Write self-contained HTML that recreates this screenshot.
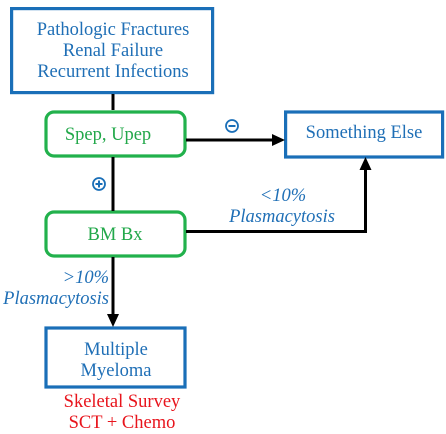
<!DOCTYPE html>
<html><head><meta charset="utf-8"><style>
html,body{margin:0;padding:0;background:#fff;}
svg{display:block;}
text{font-family:"Liberation Serif",serif;}
</style></head><body>
<svg width="446" height="434" viewBox="0 0 446 434" xmlns="http://www.w3.org/2000/svg">
<g fill="none" stroke-width="3.2">
<rect x="11.6" y="8.6" width="201" height="84" stroke="#1a6fb8"/>
<rect x="46" y="112" width="139" height="44" rx="8" stroke="#22b14c"/>
<rect x="285.6" y="112" width="157" height="45" stroke="#1a6fb8"/>
<rect x="46" y="212" width="139" height="44" rx="8" stroke="#22b14c"/>
<rect x="46" y="328" width="139" height="59" stroke="#1a6fb8"/>
</g>
<g stroke="#000" stroke-width="3" fill="none">
<line x1="113" y1="94" x2="113" y2="110"/>
<line x1="113" y1="157" x2="113" y2="211"/>
<line x1="186" y1="140" x2="275" y2="140"/>
<polyline points="186,231.5 365.5,231.5 365.5,167"/>
<line x1="113" y1="257" x2="113" y2="316"/>
</g>
<g fill="#000">
<polygon points="285,140 272,134 272,146"/>
<polygon points="365.5,157 359.5,170 371.5,170"/>
<polygon points="113,327 107,314 119,314"/>
</g>
<g fill="none" stroke="#1a6fb8" stroke-width="1.8">
<circle cx="232" cy="126" r="6"/>
<circle cx="99" cy="184" r="6"/>
</g>
<g stroke="#1a6fb8" stroke-width="2">
<line x1="228.5" y1="126" x2="235.5" y2="126"/>
<line x1="95.5" y1="184" x2="102.5" y2="184"/>
<line x1="99" y1="180.5" x2="99" y2="187.5"/>
</g>
<g fill="#1f6fb6" font-size="18.5" text-anchor="middle">
<text x="113" y="35">Pathologic Fractures</text>
<text x="113" y="56">Renal Failure</text>
<text x="113" y="77">Recurrent Infections</text>
<text x="364" y="138">Something Else</text>
<text x="116" y="355">Multiple</text>
<text x="116" y="376">Myeloma</text>
</g>
<g fill="#22a84a" font-size="18.5" text-anchor="middle">
<text x="108" y="140">Spep, Upep</text>
<text x="115" y="240">BM Bx</text>
</g>
<g fill="#1f6fb6" font-size="18.5" font-style="italic">
<text x="283" y="201" text-anchor="middle">&lt;10%</text>
<text x="282" y="222" text-anchor="middle">Plasmacytosis</text>
<text x="109" y="283" text-anchor="end">&gt;10%</text>
<text x="109" y="304" text-anchor="end">Plasmacytosis</text>
</g>
<g fill="#e8141c" font-size="18.5" text-anchor="middle">
<text x="122" y="407">Skeletal Survey</text>
<text x="122" y="428">SCT + Chemo</text>
</g>
</svg>
</body></html>
